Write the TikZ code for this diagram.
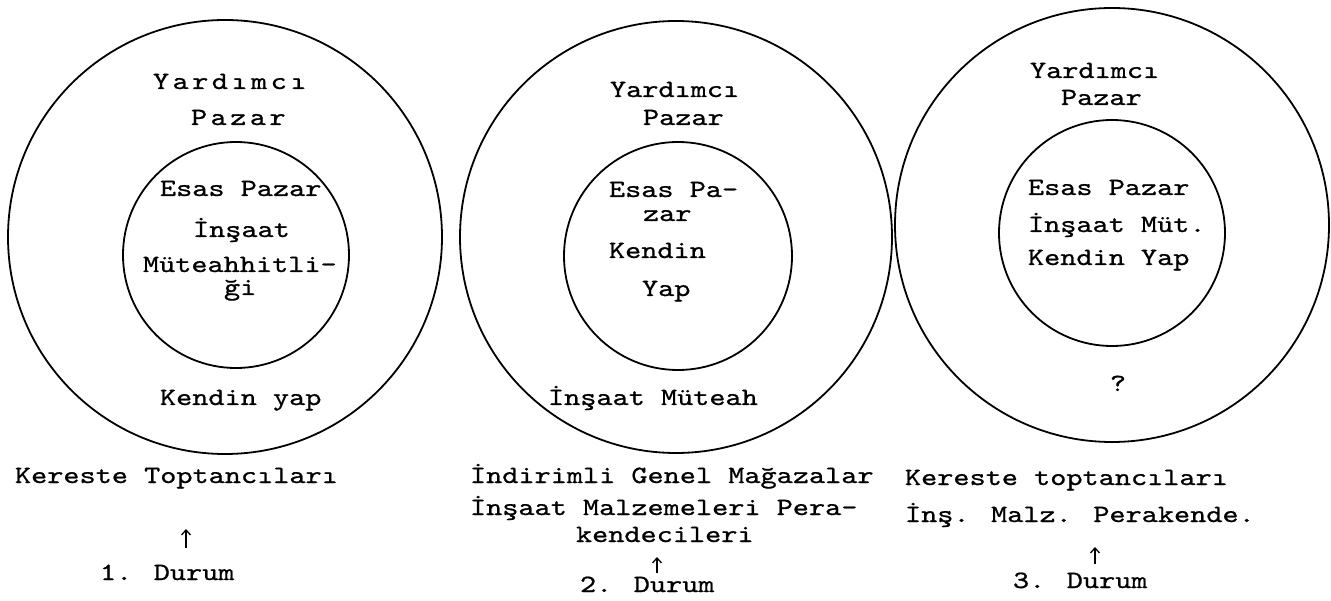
\documentclass[tikz,border=0pt]{standalone}
\usepackage{fontspec}
\newfontfamily\tw{lmmono10-regular.otf}[FakeStretch=1.24,FakeBold=0.8]
\newfontfamily\twspaced{lmmono10-regular.otf}[FakeStretch=1.24,FakeBold=0.8,LetterSpace=14]
\usetikzlibrary{arrows.meta}
\tikzset{
  ring/.style={draw=black, line width=1.8pt},
  lbl/.style={anchor=base west, inner sep=0pt, outer sep=0pt, font=\tw\fontsize{24.8}{28}\selectfont},
  slbl/.style={anchor=base west, inner sep=0pt, outer sep=0pt, font=\twspaced\fontsize{24.8}{28}\selectfont},
  upar/.style={line width=1.3pt, -{Straight Barb[length=5pt,width=9pt]}}
}
\begin{document}
\begin{tikzpicture}[x=1pt,y=-1pt]
\useasboundingbox (0,0) rectangle (1331,601);
% circles
\draw[ring] (225,237) circle[radius=217];
\draw[ring] (236,255) circle[radius=113];
\draw[ring] (676,237) circle[radius=216];
\draw[ring] (678,256) circle[radius=114];
\draw[ring] (1112,225) circle[radius=217];
\draw[ring] (1112,233) circle[radius=113];
% situation 1
\node[slbl] (y1) at (153,89) {Yardımcı};
\node[slbl] (p1) at (191,125) {Pazar};
\node[lbl] (e1) at (160,196) {Esas Pazar};
\node[lbl] (i1) at (193,237) {İnşaat};
\node[lbl] (m1) at (143,272) {Müteahhitli-};
\node[lbl] (g1) at (224,295) {ği};
\node[lbl] (k1) at (160,405) {Kendin yap};
% situation 2
\node[lbl] (y2) at (610,97) {Yardımcı};
\node[lbl] (p2) at (643,125) {Pazar};
\node[lbl] (e2) at (609,197) {Esas Pa-};
\node[lbl] (z2) at (643,221) {zar};
\node[lbl] (k2) at (609,258) {Kendin};
\node[lbl] (a2) at (642,296) {Yap};
\node[lbl] (i2) at (548,405) {İnşaat Müteah};
% situation 3
\node[lbl] (y3) at (1030,78) {Yardımcı};
\node[lbl] (p3) at (1061,105) {Pazar};
\node[lbl] (e3) at (1028,195) {Esas Pazar};
\node[lbl] (i3) at (1028,232) {İnşaat Müt.};
\node[lbl] (k3) at (1028,265) {Kendin Yap};
\node[lbl, anchor=base] (q3) at (1118,391) {?};
% bottom labels
\node[lbl] (b1) at (15,483) {Kereste Toptancıları};
\node[lbl] (d1) at (100,580) {1. Durum};
\node[lbl] (b2a) at (470,483) {İndirimli Genel Mağazalar};
\node[lbl] (b2b) at (470,515) {İnşaat Malzemeleri Pera-};
\node[lbl] (b2c) at (576,542) {kendecileri};
\node[lbl] (d2) at (580,592) {2. Durum};
\node[lbl] (b3a) at (905,485) {Kereste toptancıları};
\node[lbl] (b3b) at (905,522) {İnş. Malz. Perakende.};
\node[lbl] (d3) at (1013,588) {3. Durum};
% arrows
\coordinate (s1) at (186,548);
\coordinate (t1) at (186,529);
\coordinate (s2) at (657,573);
\coordinate (t2) at (657,557);
\coordinate (s3) at (1095,564);
\coordinate (t3) at (1095,547);
\draw[upar] (s1) -- (t1);
\draw[upar] (s2) -- (t2);
\draw[upar] (s3) -- (t3);
\end{tikzpicture}
\end{document}
